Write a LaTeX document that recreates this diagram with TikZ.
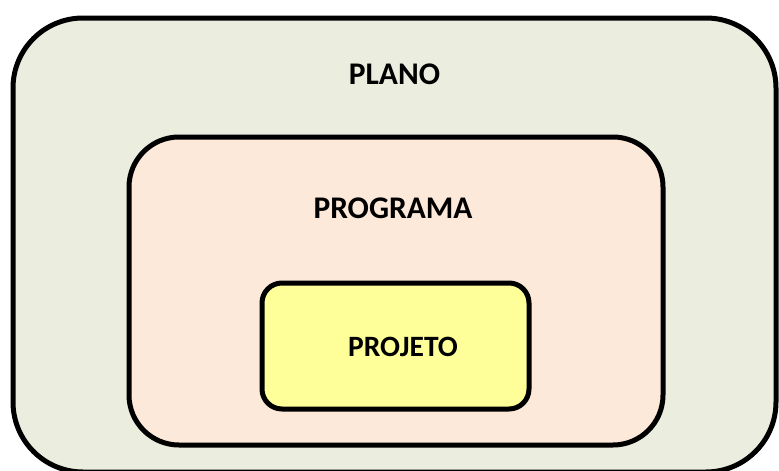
\documentclass[tikz,border=0pt]{standalone}
\usepackage{fontspec}
\setmainfont{Carlito}
\begin{document}
\begin{tikzpicture}[x=1pt,y=-1pt,
  box/.style={draw=black, line width=5pt, inner sep=0pt},
  caption/.style={font=\fontsize{31.5}{36}\selectfont\bfseries, inner sep=0pt, anchor=center},
  smallcaption/.style={caption, font=\fontsize{29.5}{34}\selectfont\bfseries}]
\useasboundingbox (0,0) rectangle (779,471);
% nested rounded frames
\node[box, fill={rgb,255:red,235;green,238;blue,222}, rounded corners=70pt,
      minimum width=763pt, minimum height=454pt] (plano) at (394.5,245) {};
\node[box, fill={rgb,255:red,253;green,233;blue,217}, rounded corners=50pt,
      minimum width=534pt, minimum height=308pt] (programa) at (396,291) {};
\node[box, fill={rgb,255:red,255;green,255;blue,153}, rounded corners=20pt,
      minimum width=267pt, minimum height=126pt] (projeto) at (395.5,346) {};
% titles
\node[caption] (tplano) at (394.5,74) {PLANO};
\node[caption] (tprograma) at (393,208) {PROGRAMA};
\node[smallcaption] (tprojeto) at (403,346.5) {PROJETO};
\end{tikzpicture}
\end{document}
